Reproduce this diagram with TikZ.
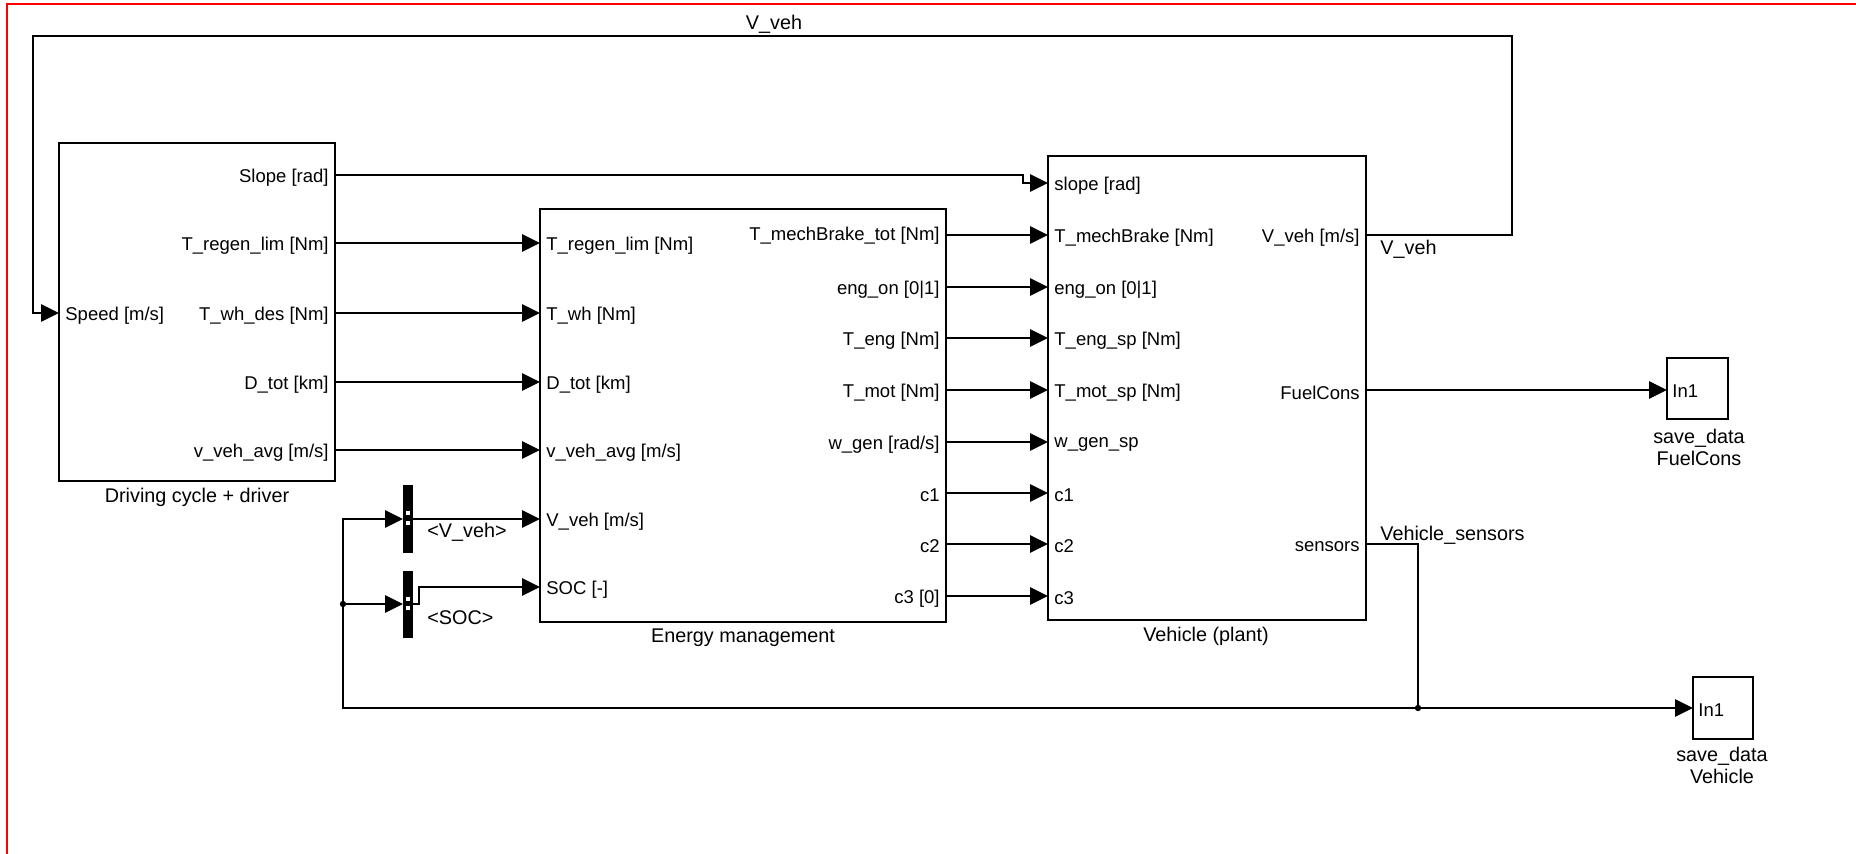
\documentclass[tikz,border=0pt]{standalone}
\usepackage{fontspec}
\setmainfont{Liberation Sans}
\usetikzlibrary{arrows.meta}
\begin{document}
\begin{tikzpicture}[x=0.5pt,y=-0.5pt, font=\fontsize{9.25}{10.5}\selectfont,
 blk/.style={draw, line width=1.4pt, rectangle, anchor=north west, inner sep=0pt, outer sep=0pt},
 sig/.style={line width=1.35pt, -{Triangle[length=9pt,width=8.5pt]}},
 wire/.style={line width=1.35pt},
 lin/.style={anchor=west, inner sep=0pt, yshift=-1.2pt},
 lout/.style={anchor=east, inner sep=0pt, yshift=-1.2pt},
 blkcap/.style={anchor=center, inner sep=0pt, align=center, font=\fontsize{9.9}{11}\selectfont},
 siglab/.style={anchor=west, inner sep=0pt, font=\fontsize{9.9}{11}\selectfont},
 bus/.style={fill=black, draw=none, anchor=north west, inner sep=0pt, outer sep=0pt, minimum width=5pt, minimum height=34pt},
 portsq/.style={fill=white}]
\useasboundingbox (0,0) rectangle (1856,854);
\draw[red, line width=1.2pt] (7,854) -- (7,4) -- (1856,4);

% blocks
\node[blk, minimum width=138pt, minimum height=169pt] (dc) at (59,143) {};
\node[blk, minimum width=203pt, minimum height=206.5pt] (em) at (540,209) {};
\node[blk, minimum width=159pt, minimum height=232pt] (veh) at (1048,156) {};
\node[blk, minimum width=30.5pt, minimum height=30.5pt] (fc) at (1667,358) {};
\node[blk, minimum width=30pt, minimum height=31pt] (vs) at (1693,677) {};
\node[bus] (b1) at (403,485) {};
\node[bus, minimum height=33.5pt] (b2) at (403,571) {};
\fill[portsq] (406,511) rectangle (410,515);
\fill[portsq] (406,521) rectangle (410,525);
\fill[portsq] (406,597) rectangle (410,601);
\fill[portsq] (406,606) rectangle (410,610);

% driving cycle labels
\node[lin] (dcs) at (65,313) {Speed [m/s]};
\node[lout] (dco1) at (329,175) {Slope [rad]};
\node[lout] (dco2) at (329,243) {T\_regen\_lim [Nm]};
\node[lout] (dco3) at (329,313) {T\_wh\_des [Nm]};
\node[lout] (dco4) at (329,382) {D\_tot [km]};
\node[lout] (dco5) at (329,450) {v\_veh\_avg [m/s]};
\node[blkcap] (dccap) at (197,497) {Driving cycle + driver};

% energy management labels
\node[lin] (emi1) at (546,243) {T\_regen\_lim [Nm]};
\node[lin] (emi2) at (546,313) {T\_wh [Nm]};
\node[lin] (emi3) at (546,382) {D\_tot [km]};
\node[lin] (emi4) at (546,450) {v\_veh\_avg [m/s]};
\node[lin] (emi5) at (546,519) {V\_veh [m/s]};
\node[lin] (emi6) at (546,587) {SOC [-]};
\node[lout] (emo1) at (940,233) {T\_mechBrake\_tot [Nm]};
\node[lout] (emo2) at (940,287) {eng\_on [0|1]};
\node[lout] (emo3) at (940,338) {T\_eng [Nm]};
\node[lout] (emo4) at (940,390) {T\_mot [Nm]};
\node[lout] (emo5) at (940,442) {w\_gen [rad/s]};
\node[lout] (emo6) at (940,493) {c1};
\node[lout] (emo7) at (940,544) {c2};
\node[lout] (emo8) at (940,596) {c3 [0]};
\node[blkcap] (emcap) at (743,638) {Energy management};

% vehicle labels
\node[lin] (vi1) at (1054,183) {slope [rad]};
\node[lin] (vi2) at (1054,235) {T\_mechBrake [Nm]};
\node[lin] (vi3) at (1054,287) {eng\_on [0|1]};
\node[lin] (vi4) at (1054,338) {T\_eng\_sp [Nm]};
\node[lin] (vi5) at (1054,390) {T\_mot\_sp [Nm]};
\node[lin] (vi6) at (1054,442) {w\_gen\_sp};
\node[lin] (vi7) at (1054,493) {c1};
\node[lin] (vi8) at (1054,544) {c2};
\node[lin] (vi9) at (1054,596) {c3};
\node[lout] (vo1) at (1360,235) {V\_veh [m/s]};
\node[lout] (vo2) at (1360,390) {FuelCons};
\node[lout] (vo3) at (1360,544) {sensors};
\node[blkcap] (vcap) at (1206,636) {Vehicle (plant)};

% sinks
\node[lin] (fcin) at (1672,389) {In1};
\node[blkcap] (fccap) at (1699,447) {save\_data\\FuelCons};
\node[lin] (vsin) at (1698,708) {In1};
\node[blkcap] (vscap) at (1722,765) {save\_data\\Vehicle};

% signal names
\node[blkcap] (sig1) at (774,24) {V\_veh};
\node[siglab] (sig2) at (1380,249) {V\_veh};
\node[siglab] (sig3) at (1380,535) {Vehicle\_sensors};
\node[siglab] (sig4) at (427,532) {<V\_veh>};
\node[siglab] (sig5) at (427,618) {<SOC>};

% connectors DC -> EM
\draw[sig] (dc.east |- 0,243) -- (em.west |- 0,243);
\draw[sig] (dc.east |- 0,313) -- (em.west |- 0,313);
\draw[sig] (dc.east |- 0,382) -- (em.west |- 0,382);
\draw[sig] (dc.east |- 0,450) -- (em.west |- 0,450);
% slope
\draw[sig] (dc.east |- 0,175) -- (1023,175) -- (1023,183) -- (veh.west |- 0,183);
% EM -> vehicle
\draw[sig] (em.east |- 0,235) -- (veh.west |- 0,235);
\draw[sig] (em.east |- 0,287) -- (veh.west |- 0,287);
\draw[sig] (em.east |- 0,338) -- (veh.west |- 0,338);
\draw[sig] (em.east |- 0,390) -- (veh.west |- 0,390);
\draw[sig] (em.east |- 0,442) -- (veh.west |- 0,442);
\draw[sig] (em.east |- 0,493) -- (veh.west |- 0,493);
\draw[sig] (em.east |- 0,544) -- (veh.west |- 0,544);
\draw[sig] (em.east |- 0,596) -- (veh.west |- 0,596);
% feedback
\draw[sig] (veh.east |- 0,235) -- (1512,235) -- (1512,36) -- (33,36) -- (33,313) -- (dc.west |- 0,313);
% fuel
\draw[sig] (veh.east |- 0,390) -- (fc.west |- 0,390);
% sensors
\coordinate (j1) at (1418,708);
\coordinate (j2) at (343,604);
\draw[wire] (veh.east |- 0,544) -- (1418,544) -- (j1);
\draw[sig] (j1) -- (vs.west |- j1);
\draw[wire] (j1) -- (343,708) -- (j2);
\draw[sig] (j2) -- (343,519) -- (b1.west |- 0,519);
\draw[sig] (j2) -- (b2.west |- j2);
\draw[sig] (b1.east |- 0,519) -- (em.west |- 0,519);
\draw[sig] (b2.east |- 0,604) -- (419,604) -- (419,587) -- (em.west |- 0,587);
\fill (j1) circle (1.6pt);
\fill (j2) circle (1.6pt);
\end{tikzpicture}
\end{document}
